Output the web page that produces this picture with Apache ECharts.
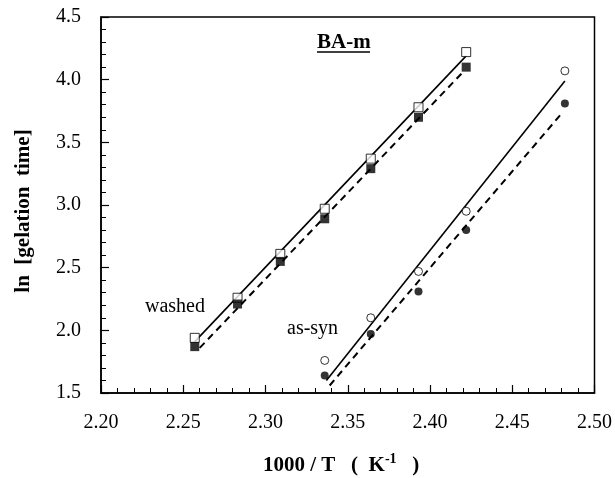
<!DOCTYPE html>
<html>
<head>
<meta charset="utf-8">
<script src="https://cdn.jsdelivr.net/npm/echarts@6/dist/echarts.min.js"></script>
<style>
  html, body { margin: 0; padding: 0; background: #fff; }
  #chart { width: 615px; height: 478px; }
</style>
</head>
<body>
<div id="chart"></div>
<script>
// 1000/T values (K^-1) and ln[gelation time]
const washedX = [2.257, 2.283, 2.309, 2.336, 2.364, 2.393, 2.422];
const washedOpen = [1.94, 2.26, 2.61, 2.97, 3.37, 3.78, 4.22];
const washedFilled = [1.87, 2.21, 2.55, 2.89, 3.29, 3.70, 4.10];

const assynX = [2.336, 2.364, 2.393, 2.422, 2.482];
const assynOpen = [1.76, 2.10, 2.47, 2.95, 4.07];
const assynFilled = [1.64, 1.97, 2.31, 2.80, 3.81];

// fitted line end points
const washedSolidFit = [[2.257, 1.91], [2.422, 4.19]];
const washedDashFit = [[2.260, 1.86], [2.420, 4.06]];
const assynSolidFit = [[2.337, 1.60], [2.482, 3.99]];
const assynDashFit = [[2.339, 1.56], [2.480, 3.73]];

const FONT = "'Liberation Serif', 'DejaVu Serif', serif";

function pairs(xs, ys) {
  return xs.map((x, i) => [x, ys[i]]);
}

const chart = echarts.init(document.getElementById('chart'));

const axisCommon = {
  axisLine: { show: true, onZero: false, lineStyle: { color: '#000', width: 1.5 } },
  axisTick: { show: true, inside: true, length: 8, lineStyle: { color: '#000', width: 1.2 } },
  minorTick: { show: true, splitNumber: 5, length: 5, lineStyle: { color: '#000', width: 1 } },
  splitLine: { show: false },
  axisLabel: { color: '#000', fontFamily: FONT, fontSize: 20 }
};

const option = {
  animation: false,
  backgroundColor: '#fff',
  grid: {
    left: 101, top: 17, right: 20, bottom: 85,
    show: true, borderColor: '#000', borderWidth: 1.5, backgroundColor: 'transparent'
  },
  xAxis: Object.assign({}, axisCommon, {
    type: 'value', min: 2.20, max: 2.50, interval: 0.05,
    axisLabel: Object.assign({}, axisCommon.axisLabel, {
      margin: 20, formatter: v => v.toFixed(2)
    })
  }),
  yAxis: Object.assign({}, axisCommon, {
    type: 'value', min: 1.5, max: 4.5, interval: 0.5,
    axisLabel: Object.assign({}, axisCommon.axisLabel, {
      margin: 20, formatter: v => v.toFixed(1)
    })
  }),
  series: [
    {
      type: 'line', data: washedSolidFit, symbol: 'none',
      lineStyle: { color: '#000', width: 1.6 }, z: 2
    },
    {
      type: 'line', data: washedDashFit, symbol: 'none',
      lineStyle: { color: '#000', width: 2, type: [7, 5] }, z: 2
    },
    {
      type: 'line', data: assynSolidFit, symbol: 'none',
      lineStyle: { color: '#000', width: 1.6 }, z: 2
    },
    {
      type: 'line', data: assynDashFit, symbol: 'none',
      lineStyle: { color: '#000', width: 2, type: [7, 5] }, z: 2
    },
    {
      type: 'scatter', data: pairs(washedX, washedOpen), symbol: 'rect', symbolSize: 9,
      itemStyle: { color: '#fff', borderColor: '#000', borderWidth: 1 }, z: 3
    },
    {
      type: 'scatter', data: pairs(washedX, washedFilled), symbol: 'rect', symbolSize: 9,
      itemStyle: { color: '#000' }, z: 4
    },
    {
      type: 'scatter', data: pairs(assynX, assynOpen), symbol: 'circle', symbolSize: 8,
      itemStyle: { color: '#fff', borderColor: '#000', borderWidth: 1 }, z: 3
    },
    {
      type: 'scatter', data: pairs(assynX, assynFilled), symbol: 'circle', symbolSize: 8,
      itemStyle: { color: '#000' }, z: 4
    }
  ],
  graphic: [
    {
      type: 'text', left: 317, top: 32,
      style: { text: 'BA-m', font: "bold 21px " + FONT, fill: '#000' }
    },
    {
      type: 'line', shape: { x1: 317, y1: 52, x2: 370, y2: 52 },
      style: { stroke: '#000', lineWidth: 1.3 }
    },
    {
      type: 'text', left: 145, top: 297,
      style: { text: 'washed', font: "20px " + FONT, fill: '#000' }
    },
    {
      type: 'text', left: 287, top: 319,
      style: { text: 'as-syn', font: "20px " + FONT, fill: '#000' }
    },
    {
      type: 'text', x: 24, y: 211, rotation: Math.PI / 2,
      style: {
        text: 'ln  [gelation  time]', font: "bold 21px " + FONT, fill: '#000',
        align: 'center', verticalAlign: 'middle'
      }
    },
    {
      type: 'text', left: 263, top: 452,
      style: {
        text: '{m|1000 / T   (  K}{s|-1}{m|   )}',
        rich: {
          m: { font: "bold 21px " + FONT, fill: '#000', verticalAlign: 'bottom', lineHeight: 24 },
          s: { font: "bold 14px " + FONT, fill: '#000', verticalAlign: 'top', lineHeight: 24 }
        }
      }
    }
  ]
};

chart.setOption(option);
</script>
</body>
</html>
